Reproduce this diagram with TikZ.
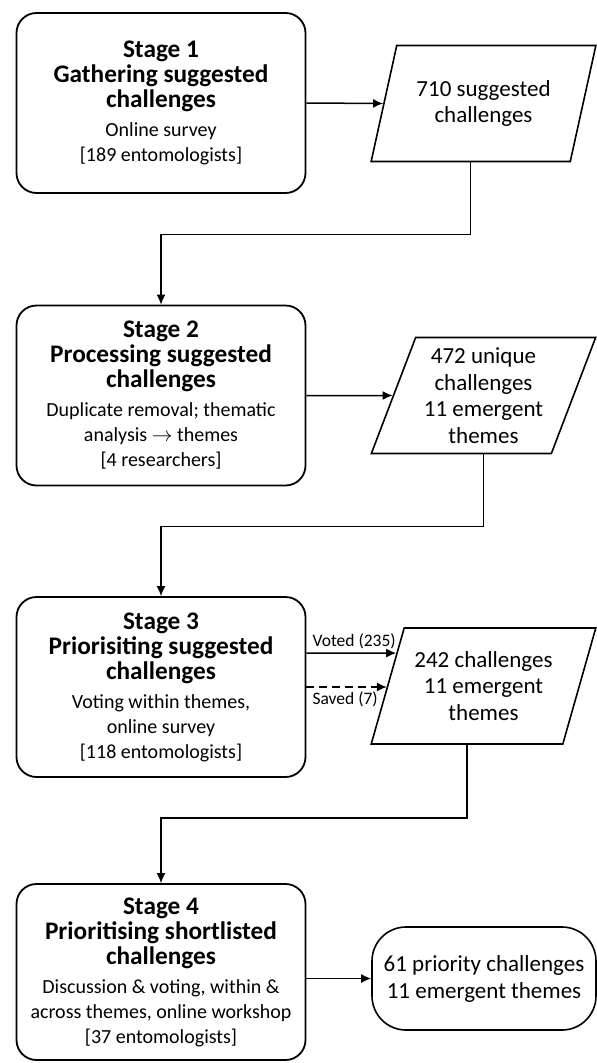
\documentclass[tikz,border=0pt]{standalone}
\usepackage{fontspec}
\setmainfont{Carlito}
\usepackage{tikz}
\usetikzlibrary{arrows.meta,calc,positioning,shapes.geometric}
\newcommand{\stagefont}{\fontsize{25.3}{29}\selectfont\bfseries}

\begin{document}
\begin{tikzpicture}[x=1pt,y=-1pt,>={Latex[length=10pt,width=9pt]},
stagebox/.style={rectangle,draw,line width=1.8pt,rounded corners=20pt,minimum
width=289pt,minimum height=180pt,align=center,inner sep=2pt,
font=\fontsize{20}{25}\selectfont},
databox/.style={trapezium,trapezium left angle=68,trapezium right angle=112,
trapezium stretches=true,draw,line width=1.6pt,minimum width=225pt,minimum
height=116pt,align=center,inner sep=2pt,font=\fontsize{23}{26.5}\selectfont},
endbox/.style={rectangle,draw,line width=1.6pt,rounded corners=34pt,minimum
width=224pt,minimum height=103pt,align=center,font=\fontsize{23}{27}\selectfont},
flow/.style={->,line width=1.5pt},
note/.style={font=\fontsize{17.5}{20}\selectfont,inner sep=1pt}]
\useasboundingbox[fill=white] (0,0) rectangle (597,1063);

\node (Stage1) [stagebox] at (161,103) {\stagefont Stage 1\\ \stagefont
Gathering suggested\\ \stagefont challenges\\[4pt] Online survey\\ \relax[189
entomologists]};
\node (Stage2) [stagebox] at (161,395.5) {\stagefont Stage 2\\ \stagefont
Processing suggested\\ \stagefont challenges\\[4pt] Duplicate removal;
thematic\\ analysis $\rightarrow$ themes\\ \relax[4 researchers]};
\node (Stage3) [stagebox] at (161,687) {\stagefont Stage 3\\ \stagefont
Priorisiting suggested\\ \stagefont challenges\\[4pt] Voting within themes,\\
online survey\\ \relax[118 entomologists]};
\node (Stage4) [stagebox,minimum height=176pt] at (161,972) {\stagefont Stage
4\\ \stagefont Prioritising shortlisted\\ \stagefont challenges\\[4pt]
Discussion \& voting, within \&\\ across themes, online workshop\\ \relax[37
entomologists]};

\node (Challenges1) [databox] at (483.5,103.5) {710 suggested\\ challenges};
\node (Challenges2) [databox] at (483.5,395.5) {472 unique\\ challenges\\ 11
emergent\\ themes};
\node (Challenges3) [databox] at (483.5,686) {242 challenges\\ 11 emergent\\
themes};
\node (Priorities) [endbox] at (484,978.5) {61 priority challenges\\ 11 emergent
themes};

\draw[flow] (Stage1.east) -- (Challenges1.west);
\draw[flow] (Challenges1.bottom side) -- ++(0,72) -| (Stage2.north);
\draw[flow] (Stage2.east) -- (Challenges2.west);
\draw[flow] (Challenges2.south) -- ++(0,72) -| (Stage3.north);

% Stage 3 splits into voted and saved challenges
\draw[flow] ([yshift=34pt]Stage3.east) --
($(Challenges3.bottom left corner)!0.78!(Challenges3.top left corner)$);
\draw[flow,dash pattern=on 8pt off 5pt] (Stage3.east) -- (Stage3.east -|
Challenges3.west);
\node (Voted) [note,anchor=south west] at ([xshift=5pt,yshift=37pt]Stage3.east)
{Voted (235)};
\node (Saved) [note,anchor=north west] at ([xshift=5pt,yshift=-3pt]Stage3.east)
{Saved (7)};

\draw[flow] (Challenges3.bottom side) -- ++(0,73) -| (Stage4.north);
\draw[flow] (Stage4.east |- Priorities.west) -- (Priorities.west);

\end{tikzpicture}
\end{document}
